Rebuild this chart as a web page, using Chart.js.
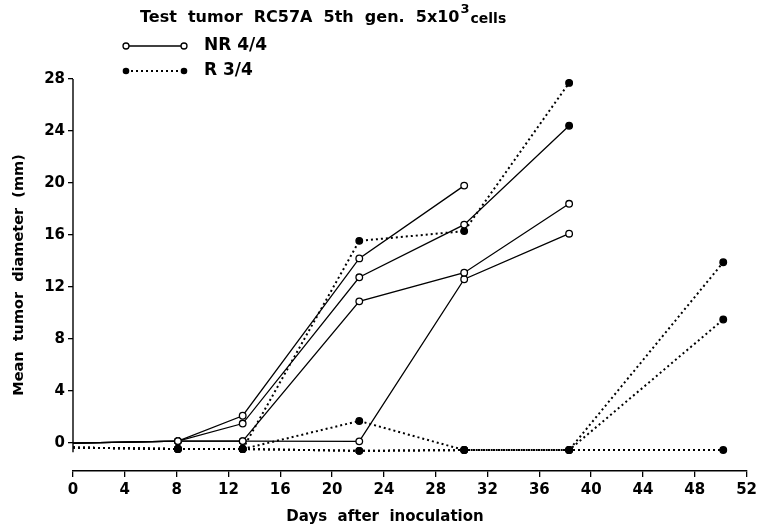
<!DOCTYPE html>
<html>
<head>
<meta charset="utf-8">
<script src="https://cdn.jsdelivr.net/npm/chart.js@4"></script>
<style>
body{margin:0;background:#fff;}
#wrap{width:761px;height:531px;position:relative;}
</style>
</head>
<body>
<div id="wrap"><canvas id="tumorChart"></canvas></div>
<script>
// days of measurement (as placed on the original axis)
const days = [0, 8.1, 13.1, 22.1, 30.2, 38.3, 50.2];

// NR 4/4 - open circles, solid lines
const nr1 = [0, 0.15, 2.1, 14.2, 19.8, null, null];
const nr2 = [0, 0.15, 1.5, 12.75, 16.8, 24.4, null];
const nr3 = [0, 0.15, 0.15, 10.9, 13.1, 18.4, null];
const nr4 = [0, 0.15, 0.15, 0.13, 12.6, 16.1, null];

// R 3/4 - filled dots, dotted lines
const r1 = [-0.35, -0.46, -0.46, 15.55, 16.3, 27.7, null];
const r2 = [-0.35, -0.46, -0.46, 1.7, -0.54, -0.54, 13.9];
const r3 = [-0.35, -0.46, -0.46, -0.6, -0.54, -0.54, 9.5];
const r4 = [-0.35, -0.46, -0.46, -0.6, -0.54, -0.54, -0.54];

const xTicks = [0, 4, 8, 12, 16, 20, 24, 28, 32, 36, 40, 44, 48, 52];
const yTicks = [0, 4, 8, 12, 16, 20, 24, 28];

const FONT = "'DejaVu Sans', sans-serif";

function makeSet(vals, dotted, filledLast){
  let pts = [];
  days.forEach((d,i)=>{ if(vals[i] !== null) pts.push({x:d, y:vals[i]}); });
  return {
    data: pts,
    borderColor: "#000",
    borderWidth: dotted ? 2 : 1.3,
    borderDash: dotted ? [2, 3] : [],
    pointRadius: pts.map(p => p.x === 0 ? 0 : 3.3),
    pointBorderWidth: 1.3,
    pointBorderColor: "#000",
    pointBackgroundColor: pts.map((p,i) => (dotted || (filledLast && i === pts.length-1)) ? "#000" : "#fff"),
    fill: false,
    tension: 0
  };
}

// axis line, titles and legend drawn by hand like in the paper
const extras = {
  id: "extras",
  afterDraw(chart){
    const ctx = chart.ctx;
    const x = chart.scales.x, y = chart.scales.y;
    ctx.save();
    ctx.strokeStyle = "#000";
    ctx.fillStyle = "#000";
    ctx.lineWidth = 1.4;
    ctx.beginPath();
    ctx.moveTo(x.getPixelForValue(0), y.getPixelForValue(28));
    ctx.lineTo(x.getPixelForValue(0), y.getPixelForValue(-0.7));
    ctx.stroke();

    // title
    ctx.textBaseline = "middle";
    ctx.font = "bold 16px " + FONT;
    let tx = 140;
    const main = "Test  tumor  RC57A  5th  gen.  5x10";
    ctx.fillText(main, tx, 18);
    tx += ctx.measureText(main).width + 1;
    ctx.font = "bold 13px " + FONT;
    ctx.fillText("3", tx, 10);
    tx += ctx.measureText("3").width + 1;
    ctx.font = "bold 14px " + FONT;
    ctx.fillText("cells", tx, 19);

    // x axis title
    ctx.font = "bold 15px " + FONT;
    ctx.textAlign = "center";
    ctx.fillText("Days  after  inoculation", 385, 517);
    ctx.textAlign = "left";

    // legend
    ctx.font = "bold 17px " + FONT;
    ctx.lineWidth = 1.3;
    ctx.beginPath(); ctx.moveTo(126, 46); ctx.lineTo(184, 46); ctx.stroke();
    [126, 184].forEach(cx=>{
      ctx.beginPath(); ctx.arc(cx, 46, 3, 0, Math.PI*2);
      ctx.fillStyle = "#fff"; ctx.fill(); ctx.stroke();
    });
    ctx.fillStyle = "#000";
    ctx.fillText("NR 4/4", 204, 46);
    ctx.lineWidth = 2;
    ctx.setLineDash([2, 3]);
    ctx.beginPath(); ctx.moveTo(126, 71); ctx.lineTo(184, 71); ctx.stroke();
    ctx.setLineDash([]);
    [126, 184].forEach(cx=>{
      ctx.beginPath(); ctx.arc(cx, 71, 3.3, 0, Math.PI*2); ctx.fill();
    });
    ctx.fillText("R 3/4", 204, 71);
    ctx.restore();
  }
};

new Chart(document.getElementById("tumorChart"), {
  type: "line",
  data: {
    datasets: [
      makeSet(nr1, false), makeSet(nr2, false, true), makeSet(nr3, false), makeSet(nr4, false),
      makeSet(r1, true), makeSet(r2, true), makeSet(r3, true), makeSet(r4, true)
    ]
  },
  options: {
    responsive: true,
    maintainAspectRatio: false,
    animation: false,
    layout: { padding: { top: 79, right: 11, left: 0, bottom: 0 } },
    plugins: { legend: { display: false }, tooltip: { enabled: false } },
    scales: {
      x: {
        type: "linear",
        min: 0, max: 52,
        afterBuildTicks: s => { s.ticks = xTicks.map(v => ({value: v})); },
        afterFit: s => { s.height = 60; },
        grid: { drawOnChartArea: false, drawTicks: true, tickLength: 6, color: "#000", lineWidth: 1.3 },
        border: { display: true, color: "#000", width: 1.4 },
        ticks: { color: "#000", font: { family: FONT, size: 15, weight: "bold" }, padding: 4, maxRotation: 0 }
      },
      y: {
        min: -2.15, max: 28,
        afterBuildTicks: s => { s.ticks = yTicks.map(v => ({value: v})); },
        afterFit: s => { s.width = 73; },
        grid: { drawOnChartArea: false, drawTicks: true, tickLength: 5, color: "#000", lineWidth: 1.3 },
        border: { display: false },
        ticks: { color: "#000", font: { family: FONT, size: 15, weight: "bold" }, padding: 3 },
        title: { display: true, text: "Mean  tumor  diameter  (mm)", color: "#000",
                 font: { family: FONT, size: 14.5, weight: "bold" }, padding: { top: 11, bottom: 0 } }
      }
    }
  },
  plugins: [extras]
});
</script>
</body>
</html>
